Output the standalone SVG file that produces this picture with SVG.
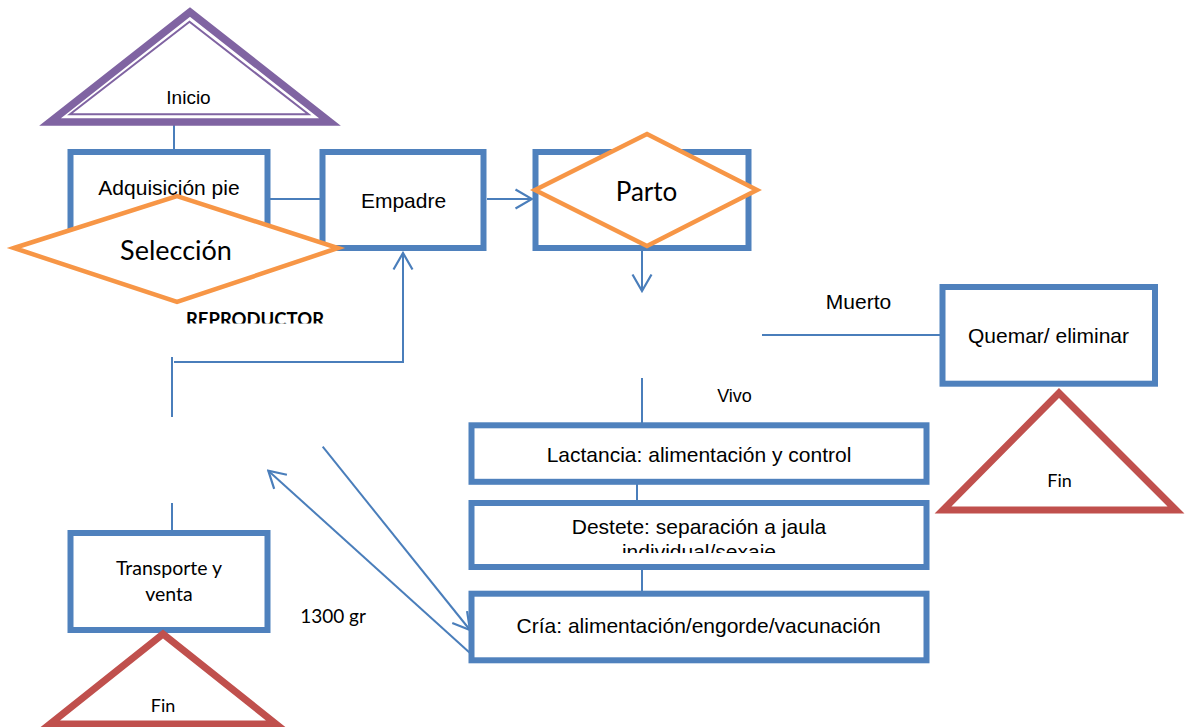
<svg xmlns="http://www.w3.org/2000/svg" width="1191" height="727" viewBox="0 0 1191 727">
<style>
.box{fill:#fff;stroke:#4F81BD;stroke-width:6}
.dia{fill:#fff;stroke:#F79646;stroke-width:4.5;stroke-linejoin:miter}
.fin{fill:#fff;stroke:#C0504D;stroke-width:7}
.ln{fill:none;stroke:#4A7EBB;stroke-width:2}
.a{font-family:"Liberation Sans",Arial,sans-serif;font-size:21px;text-anchor:middle;fill:#000}
.c{font-family:Lato,"Open Sans",sans-serif;text-anchor:middle;fill:#000}
</style>
<defs>
<marker id="arr" markerUnits="userSpaceOnUse" viewBox="-19 -12 21 24" markerWidth="21" markerHeight="24" refX="0" refY="0" orient="auto">
<path d="M-16.5,-9.5 L0,0 L-16.5,9.5" fill="none" stroke="#4A7EBB" stroke-width="2.2"/>
</marker>
<clipPath id="clipRep"><rect x="150" y="300" width="220" height="23.5"/></clipPath>
<clipPath id="clipDes"><rect x="480" y="510" width="440" height="43"/></clipPath>
</defs>

<g id="connectors">
<line class="ln" x1="174" y1="121" x2="174" y2="150"/>
<line class="ln" x1="270" y1="199" x2="320" y2="199"/>
<line class="ln" x1="487" y1="199" x2="532" y2="199" marker-end="url(#arr)"/>
<line class="ln" x1="642" y1="251" x2="642" y2="291" marker-end="url(#arr)"/>
<polyline class="ln" points="174,362 403,362 403,253" marker-end="url(#arr)"/>
<line class="ln" x1="172" y1="357" x2="172" y2="417"/>
<line class="ln" x1="172" y1="503" x2="172" y2="531"/>
<line class="ln" x1="642" y1="378" x2="642" y2="424"/>
<line class="ln" x1="762" y1="335" x2="941" y2="335"/>
<line class="ln" x1="637" y1="484" x2="637" y2="502"/>
<line class="ln" x1="642" y1="569" x2="642" y2="592"/>
<line class="ln" x1="322.7" y1="446.7" x2="470" y2="630" marker-end="url(#arr)"/>
<line class="ln" x1="470" y1="653" x2="268.3" y2="470.7" marker-end="url(#arr)"/>
</g>

<g id="inicio">
<polygon points="190,12 50,122 330,122" fill="#fff" stroke="#8064A2" stroke-width="7.5"/>
<polygon points="189.5,21.7 70,114.3 308.5,114.3" fill="none" stroke="#8064A2" stroke-width="2"/>
<text class="a" x="188.5" y="104" style="font-size:19px">Inicio</text>
</g>

<g id="adquisicion">
<rect class="box" x="70.5" y="152" width="197" height="96"/>
<text class="a" x="169" y="195">Adquisición pie</text>
</g>

<g id="empadre">
<rect class="box" x="322.5" y="152" width="161" height="96"/>
<text class="a" x="403.5" y="207.5">Empadre</text>
</g>

<g id="parto-box">
<rect class="box" x="535.5" y="152" width="213" height="96"/>
</g>

<g id="seleccion">
<polygon class="dia" points="14,248 177,196 338,248 177,302"/>
<text class="c" x="176" y="260" style="font-size:27px">Selección</text>
</g>

<g id="reproductor">
<text class="c" x="255" y="326" clip-path="url(#clipRep)" style="font-size:18.5px;font-weight:bold">REPRODUCTOR</text>
</g>

<g id="parto">
<polygon class="dia" points="535,190 647,134 757,190 647,246"/>
<text class="c" x="646.5" y="201" style="font-size:26px">Parto</text>
</g>

<g id="muerto-label">
<text class="a" x="858.5" y="309">Muerto</text>
</g>

<g id="vivo-label">
<text class="a" x="734.5" y="401.5" style="font-size:18px">Vivo</text>
</g>

<g id="quemar">
<rect class="box" x="942.5" y="287" width="212.5" height="96.7"/>
<text class="a" x="1048.5" y="342.7">Quemar/ eliminar</text>
</g>

<g id="fin-right">
<polygon class="fin" points="1059,393 943,510 1176,510"/>
<text class="c" x="1059.5" y="487" style="font-size:18px">Fin</text>
</g>

<g id="lactancia">
<rect class="box" x="471.5" y="425.3" width="455" height="56.5"/>
<text class="a" x="699" y="461.7">Lactancia: alimentación y control</text>
</g>

<g id="destete">
<rect class="box" x="471.5" y="503" width="455" height="64"/>
<text class="a" x="699" y="534.3">Destete: separación a jaula</text>
<text class="a" x="699" y="558.5" clip-path="url(#clipDes)">individual/sexaje</text>
</g>

<g id="cria">
<rect class="box" x="471.5" y="593.7" width="455" height="66.6"/>
<text class="a" x="698.7" y="633.3">Cría: alimentación/engorde/vacunación</text>
</g>

<g id="transporte">
<rect class="box" x="70.5" y="533" width="197" height="97"/>
<text class="c" x="169" y="575.3" style="font-size:19.5px">Transporte y</text>
<text class="c" x="169" y="600.7" style="font-size:19.5px">venta</text>
</g>

<g id="fin-left">
<polygon class="fin" points="163,634 50,724 276,724"/>
<text class="c" x="163" y="711.7" style="font-size:18px">Fin</text>
</g>

<g id="peso-label">
<text class="c" x="333" y="623.3" style="font-size:19px">1300 gr</text>
</g>
</svg>
